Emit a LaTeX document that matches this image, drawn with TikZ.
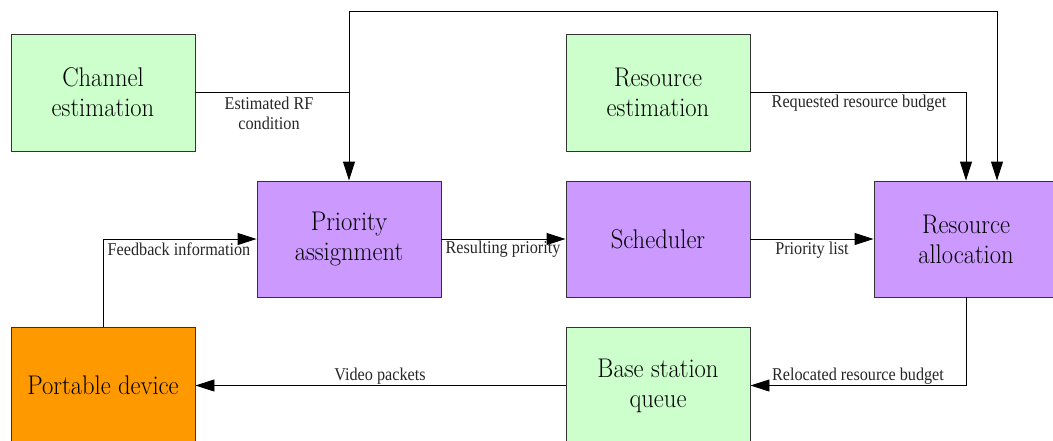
\documentclass[tikz,border=0pt]{standalone}
\usepackage{fontspec}
\setmainfont{Liberation Serif}
\newfontfamily\narrowserif[FakeStretch=0.9]{Liberation Serif}
\newfontfamily\blockserif[FakeStretch=0.91]{Latin Modern Roman}
\usetikzlibrary{arrows.meta}
\definecolor{boxgreen}{HTML}{CCFFCC}
\definecolor{boxpurple}{HTML}{CC99FF}
\definecolor{boxorange}{HTML}{FF9900}
\definecolor{edgegray}{HTML}{333333}
\tikzset{
  block/.style={draw=edgegray, line width=0.9pt, minimum width=184pt, minimum height=117pt,
    inner sep=0pt, align=center, font=\blockserif\fontsize{27}{30}\selectfont},
  estbox/.style={block, fill=boxgreen},
  procbox/.style={block, fill=boxpurple, minimum height=116pt},
  devbox/.style={block, fill=boxorange},
  flow/.style={line width=0.9pt, -{Triangle[length=19pt,width=12pt]}},
  wire/.style={line width=0.9pt},
  tag/.style={inner sep=0pt, align=center, font=\narrowserif\fontsize{18}{20}\selectfont, text=black!85}
}
\begin{document}
\begin{tikzpicture}[x=1pt, y=-1pt]
\useasboundingbox (0,0) rectangle (1053,440);

% blocks
\node[estbox]  (ch) at (103,92.5)  {Channel\\estimation};
\node[estbox]  (re) at (658,92.5)  {Resource\\estimation};
\node[procbox] (pa) at (349,239)   {Priority\\assignment};
\node[procbox] (sc) at (658,239)   {Scheduler};
\node[procbox] (ra) at (966,239)   {Resource\\allocation};
\node[devbox]  (pd) at (103,385.5) {Portable device};
\node[estbox]  (bs) at (658,385.5) {Base station\\queue};

% routing points of the upper feedback loop
\coordinate (tl) at (349,11);
\coordinate (tr) at (997,11);

% connectors
\draw[wire] (ch.east) -- (ch.east -| tl);
\draw[flow] (tl) -- (pa.north);
\draw[flow] (tl) -- (tr) -- (tr |- ra.north);
\draw[flow] (re.east) -| (ra.north);
\draw[flow] (pa) -- (sc);
\draw[flow] (sc) -- (ra);
\draw[flow] (pd.north) |- (pa.west);
\draw[flow] (ra.south) |- (bs.east);
\draw[flow] (bs.west) -- (pd.east);

% connector labels
\node[tag] (l1) at (269,113) {Estimated RF\\condition};
\node[tag] (l2) at (859,103) {Requested resource budget};
\node[tag] (l3) at (179,249) {Feedback information};
\node[tag] (l4) at (503,249) {Resulting priority};
\node[tag] (l5) at (812,250) {Priority list};
\node[tag] (l6) at (858,376) {Relocated resource budget};
\node[tag] (l7) at (380,376) {Video packets};
\end{tikzpicture}
\end{document}
